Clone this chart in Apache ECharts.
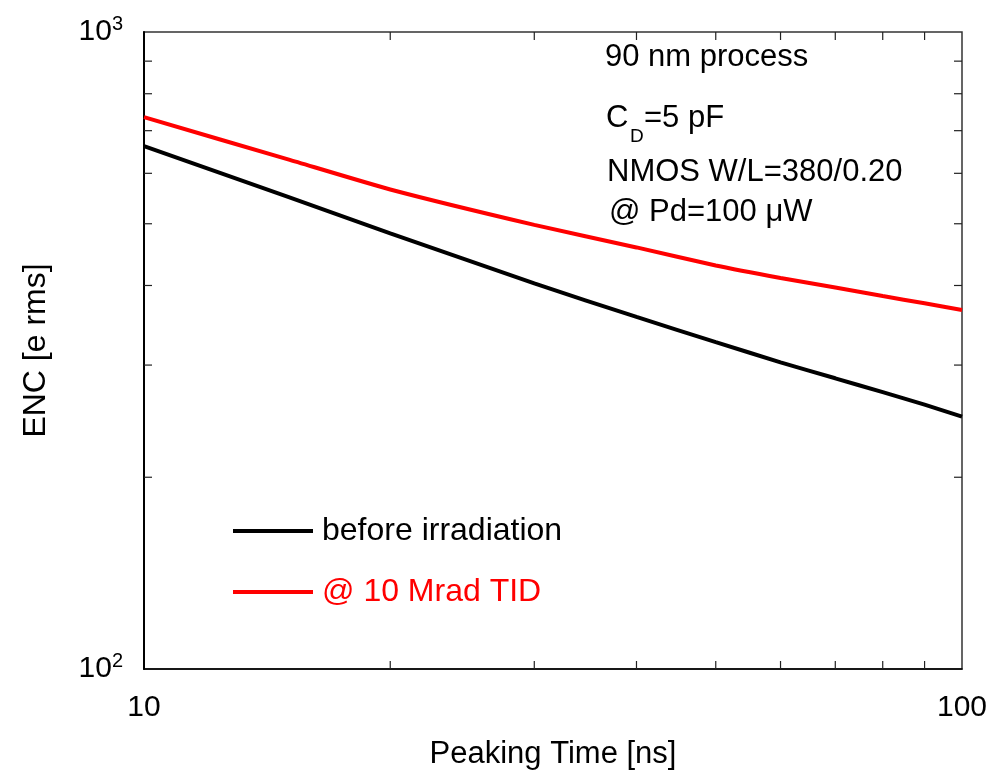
<!DOCTYPE html>
<html><head><meta charset="utf-8">
<script src="https://cdn.jsdelivr.net/npm/echarts@6/dist/echarts.min.js"></script>
<style>html,body{margin:0;padding:0;background:#fff}#c{width:1001px;height:775px}</style>
</head><body><div id="c"></div>
<script>
const peakingTime = [10, 15, 20, 30, 40, 50, 60, 70, 80, 90, 100];
const encBefore = [662, 551, 483, 403, 357, 326, 303, 286, 272, 260, 249];
const encTID = [735, 631, 566, 498, 459, 430, 411, 397, 385, 375, 366];
const xMinorTicks = [20, 30, 40, 50, 60, 70, 80, 90];
const yMinorTicks = [200, 300, 400, 500, 600, 700, 800, 900];
const seriesNames = ['before irradiation', '@ 10 Mrad TID'];
const annotations = ['90 nm process', 'C', 'D', '=5 pF', 'NMOS W/L=380/0.20', '@ Pd=100 \u03bcW'];

const FONT = 'Liberation Sans, Arial, sans-serif';
const chart = echarts.init(document.getElementById('c'));

const tickData = [];
xMinorTicks.forEach(v => tickData.push([v, 'x']));
yMinorTicks.forEach(v => tickData.push([v, 'y']));
const TL = 8;

chart.setOption({
  animation: false,
  grid: {left: 144, right: 39, top: 32, bottom: 100, show: true, borderColor: '#333', borderWidth: 1.5},
  xAxis: {
    type: 'log', logBase: 10, min: 10, max: 100,
    name: 'Peaking Time [ns]', nameLocation: 'middle', nameGap: 70,
    nameTextStyle: {fontFamily: FONT, fontSize: 31, color: '#000'},
    axisLine: {lineStyle: {color: '#000', width: 1.5}},
    axisTick: {show: false},
    axisLabel: {fontFamily: FONT, fontSize: 30, color: '#000', margin: 24},
    splitLine: {show: false}
  },
  yAxis: {
    type: 'log', logBase: 10, min: 100, max: 1000,
    name: 'ENC [e rms]', nameLocation: 'middle', nameGap: 92,
    nameTextStyle: {fontFamily: FONT, fontSize: 32, color: '#000'},
    axisLine: {lineStyle: {color: '#000', width: 2}},
    axisTick: {show: false},
    splitLine: {show: false},
    axisLabel: {
      margin: 21,
      formatter: v => '{b|10}{s|' + Math.round(Math.log10(v)) + '}',
      rich: {
        b: {fontFamily: FONT, fontSize: 30, color: '#000'},
        s: {fontFamily: FONT, fontSize: 20, color: '#000', padding: [0, 0, 16, 0]}
      }
    }
  },
  legend: {
    orient: 'vertical', left: 233, top: 515, padding: 0, itemWidth: 80, itemHeight: 4, itemGap: 29,
    icon: 'rect', selectedMode: false,
    textStyle: {fontFamily: FONT, fontSize: 32, padding: [0, 0, 0, 4]},
    data: [
      {name: seriesNames[0], textStyle: {color: '#000'}},
      {name: seriesNames[1], textStyle: {color: '#ff0000'}}
    ]
  },
  graphic: [
    {type: 'text', x: 605, y: 57, style: {text: annotations[0], font: '31px ' + FONT, fill: '#000', verticalAlign: 'middle'}},
    {type: 'text', x: 606, y: 118, style: {text: annotations[1], font: '31px ' + FONT, fill: '#000', verticalAlign: 'middle'}},
    {type: 'text', x: 630, y: 137, style: {text: annotations[2], font: '19px ' + FONT, fill: '#000', verticalAlign: 'middle'}},
    {type: 'text', x: 644, y: 118, style: {text: annotations[3], font: '31px ' + FONT, fill: '#000', verticalAlign: 'middle'}},
    {type: 'text', x: 607, y: 172, style: {text: annotations[4], font: '31px ' + FONT, fill: '#000', verticalAlign: 'middle'}},
    {type: 'text', x: 609, y: 212, style: {text: annotations[5], font: '31px ' + FONT, fill: '#000', verticalAlign: 'middle'}}
  ],
  series: [
    {name: seriesNames[0], type: 'line', data: peakingTime.map((x, i) => [x, encBefore[i]]),
     showSymbol: false, smooth: 0.2, lineStyle: {color: '#000', width: 4}, itemStyle: {color: '#000'}},
    {name: seriesNames[1], type: 'line', data: peakingTime.map((x, i) => [x, encTID[i]]),
     showSymbol: false, smooth: 0.2, lineStyle: {color: '#ff0000', width: 4}, itemStyle: {color: '#ff0000'}},
    {type: 'custom', silent: true, data: tickData, clip: false,
     renderItem: (params, api) => {
       const cs = params.coordSys;
       const d = tickData[params.dataIndex];
       const st = {stroke: '#222', lineWidth: 1.2};
       if (d[1] === 'x') {
         const p = api.coord([d[0], 100]);
         return {type: 'group', children: [
           {type: 'line', shape: {x1: p[0], y1: cs.y + cs.height, x2: p[0], y2: cs.y + cs.height - TL}, style: st},
           {type: 'line', shape: {x1: p[0], y1: cs.y, x2: p[0], y2: cs.y + TL}, style: st}
         ]};
       } else {
         const p = api.coord([10, d[0]]);
         return {type: 'group', children: [
           {type: 'line', shape: {x1: cs.x, y1: p[1], x2: cs.x + TL, y2: p[1]}, style: st},
           {type: 'line', shape: {x1: cs.x + cs.width, y1: p[1], x2: cs.x + cs.width - TL, y2: p[1]}, style: st}
         ]};
       }
     }}
  ]
});
</script></body></html>
